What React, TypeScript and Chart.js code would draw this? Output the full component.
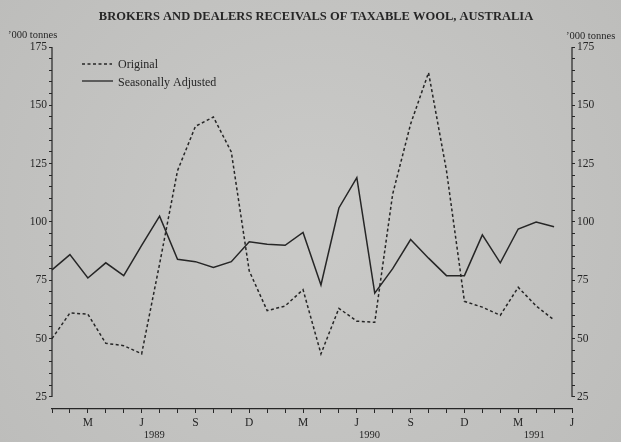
import React, { useEffect, useRef } from 'react';
import { Chart, registerables } from 'chart.js';

Chart.register(...registerables);

const months = [
  'Jan 1989', 'Feb 1989', 'Mar 1989', 'Apr 1989', 'May 1989', 'Jun 1989',
  'Jul 1989', 'Aug 1989', 'Sep 1989', 'Oct 1989', 'Nov 1989', 'Dec 1989',
  'Jan 1990', 'Feb 1990', 'Mar 1990', 'Apr 1990', 'May 1990', 'Jun 1990',
  'Jul 1990', 'Aug 1990', 'Sep 1990', 'Oct 1990', 'Nov 1990', 'Dec 1990',
  'Jan 1991', 'Feb 1991', 'Mar 1991', 'Apr 1991', 'May 1991', 'Jun 1991',
];

const tickLabels = [
  '', '', 'M', '', '', 'J', '', '', 'S', '', '', 'D',
  '', '', 'M', '', '', 'J', '', '', 'S', '', '', 'D',
  '', '', 'M', '', '', 'J',
];

const yearLabels = ['1989', '1990', '1991'];

const original = [
  50, 61, 60.5, 48, 47, 43.5, 82, 122, 141, 145, 130, 79,
  62, 64, 71, 43.5, 63, 57.5, 57, 112, 142, 164, 122, 66,
  63.5, 60, 72, 64, 58,
];

const seasonallyAdjusted = [
  79.5, 86, 76, 82.5, 77, 90, 102.5, 84, 83, 80.5, 83, 91.5,
  90.5, 90, 95.5, 73, 106, 119, 69.5, 80, 92.5, 84.5, 77, 77,
  94.5, 82.5, 97, 100, 98,
];

const yTickValues = [25, 50, 75, 100, 125, 150, 175];

const TITLE = 'BROKERS AND DEALERS RECEIVALS OF TAXABLE WOOL, AUSTRALIA';
const UNITS = '\u2019000 tonnes';

const INK = '#262626';
const SERIF = '"Liberation Serif", "DejaVu Serif", serif';

export default function App() {
  const canvasRef = useRef<HTMLCanvasElement | null>(null);

  useEffect(() => {
    const canvas = canvasRef.current;
    if (!canvas) return;

    const yMin = yTickValues[0];
    const yMax = yTickValues[yTickValues.length - 1];
    const axisMin = yMin - 5.15;

    const decor = {
      id: 'decor',
      beforeDraw(chart: any) {
        const { ctx, width, height } = chart;
        ctx.save();
        const g = ctx.createRadialGradient(width / 2, height / 2, 40, width / 2, height / 2, width * 0.62);
        g.addColorStop(0, '#c9c9c7');
        g.addColorStop(1, '#bdbdbb');
        ctx.fillStyle = g;
        ctx.fillRect(0, 0, width, height);
        ctx.restore();
      },
      afterDraw(chart: any) {
        const { ctx, chartArea, scales } = chart;
        const y = scales.y;
        const x = scales.x;
        ctx.save();
        ctx.strokeStyle = INK;
        ctx.lineWidth = 1.2;
        ctx.setLineDash([]);
        const yt = y.getPixelForValue(yMax);
        const yb = y.getPixelForValue(yMin);
        ctx.beginPath();
        ctx.moveTo(chartArea.left, yt);
        ctx.lineTo(chartArea.left, yb);
        ctx.moveTo(chartArea.right, yt);
        ctx.lineTo(chartArea.right, yb);
        ctx.stroke();

        ctx.fillStyle = INK;
        ctx.font = 'bold 12.5px ' + SERIF;
        ctx.textAlign = 'center';
        ctx.textBaseline = 'middle';
        ctx.fillText(TITLE, 316, 17);

        ctx.font = '10.5px ' + SERIF;
        ctx.textAlign = 'left';
        ctx.fillText(UNITS, 8, 35);
        ctx.fillText(UNITS, 566, 36);

        const ds = chart.data.datasets;
        ctx.font = '12px ' + SERIF;
        ctx.lineWidth = 1.3;
        ctx.setLineDash([3, 2.5]);
        ctx.beginPath();
        ctx.moveTo(82, 64);
        ctx.lineTo(112, 64);
        ctx.stroke();
        ctx.setLineDash([]);
        ctx.beginPath();
        ctx.moveTo(82, 81);
        ctx.lineTo(113, 81);
        ctx.stroke();
        ctx.textBaseline = 'middle';
        ctx.fillText(ds[0].label, 118, 65);
        ctx.fillText(ds[1].label, 118, 83);

        ctx.font = '10.5px ' + SERIF;
        ctx.textAlign = 'center';
        const anchors = [
          months.indexOf('Jun 1989') + 0.7,
          months.indexOf('Jun 1990') + 0.7,
          months.indexOf('Mar 1991') + 0.9,
        ];
        yearLabels.forEach((lab, i) => {
          const i0 = Math.floor(anchors[i]);
          const f = anchors[i] - i0;
          const px = x.getPixelForValue(i0) * (1 - f) + x.getPixelForValue(i0 + 1) * f;
          ctx.fillText(lab, px, 435);
        });
        ctx.restore();
      },
    };

    const yScale = (position: 'left' | 'right', w: number) => ({
      type: 'linear' as const,
      position,
      min: axisMin,
      max: yMax,
      afterBuildTicks: (s: any) => {
        s.ticks = s.ticks.filter((t: any) => t.value >= yMin - 1e-6);
      },
      afterFit: (s: any) => {
        s.width = w;
      },
      grid: {
        display: true,
        drawOnChartArea: false,
        tickLength: 3,
        color: INK,
        lineWidth: 1,
      },
      border: { display: false },
      ticks: {
        stepSize: 5,
        autoSkip: false,
        padding: 2,
        color: INK,
        font: { family: SERIF, size: 11.5 },
        callback: (v: any) => (yTickValues.includes(Number(v)) ? String(v) : ''),
      },
    });

    const chart = new Chart(canvas, {
      type: 'line',
      data: {
        labels: months,
        datasets: [
          {
            label: 'Original',
            data: original,
            borderColor: INK,
            borderWidth: 1.5,
            borderDash: [3, 2.5],
            pointRadius: 0,
            tension: 0,
            fill: false,
          },
          {
            label: 'Seasonally Adjusted',
            data: seasonallyAdjusted,
            borderColor: INK,
            borderWidth: 1.5,
            pointRadius: 0,
            tension: 0,
            fill: false,
          },
        ],
      },
      options: {
        responsive: false,
        animation: false,
        layout: { padding: { top: 47, left: 0, right: 0, bottom: 0 } },
        plugins: {
          legend: { display: false },
          title: { display: false },
          tooltip: { enabled: false },
        },
        scales: {
          x: {
            type: 'category',
            offset: false,
            afterFit: (s: any) => {
              s.height = 33;
            },
            grid: {
              display: true,
              drawOnChartArea: false,
              tickLength: 4,
              color: INK,
              lineWidth: 1,
            },
            border: { display: true, color: INK, width: 1.2 },
            ticks: {
              autoSkip: false,
              maxRotation: 0,
              minRotation: 0,
              padding: 3,
              color: INK,
              font: { family: SERIF, size: 11.5 },
              callback: (_v: any, i: number) => tickLabels[i],
            },
          },
          y: yScale('left', 52),
          y2: yScale('right', 49),
        },
      },
      plugins: [decor],
    } as any);

    return () => {
      chart.destroy();
    };
  }, []);

  return (
    <div style={{ position: 'fixed', left: 0, top: 0, width: 621, height: 442, background: '#c4c4c2' }}>
      <canvas ref={canvasRef} width={621} height={442} style={{ display: 'block', width: 621, height: 442 }} />
    </div>
  );
}
